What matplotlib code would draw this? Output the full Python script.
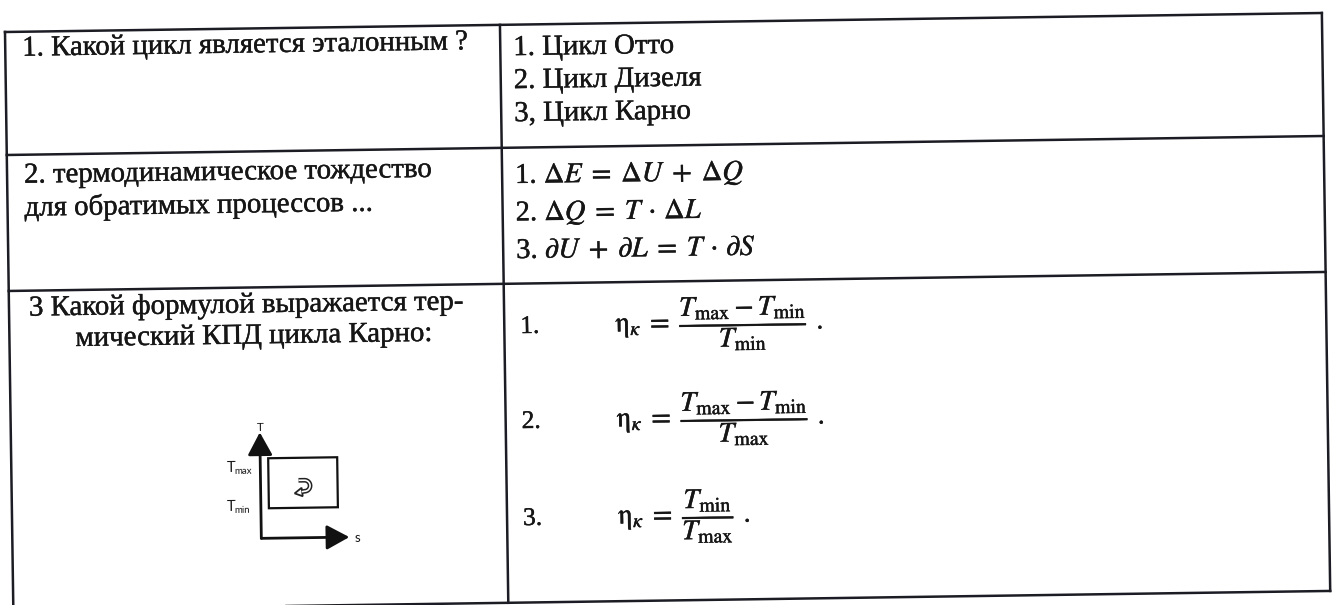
import numpy as np
import matplotlib
matplotlib.use("Agg")
import matplotlib.pyplot as plt
import matplotlib.patheffects as pe
from matplotlib.patches import FancyArrowPatch, Polygon

plt.rcParams["font.family"] = ["Liberation Serif", "DejaVu Serif"]
plt.rcParams["mathtext.fontset"] = "stix"

# ---------------- content ----------------
q1_lines = ["1. Какой цикл является эталонным ?"]
q2_lines = ["2. термодинамическое тождество", "для обратимых процессов ..."]
q3_lines = ["3 Какой формулой выражается тер-", "мический КПД цикла Карно:"]
a1_lines = ["1. Цикл Отто", "2. Цикл Дизеля", "3, Цикл Карно"]
a2_lines = [r"1. $\Delta E\;=\;\Delta U\;+\;\Delta Q$",
            r"2. $\Delta Q\;=\;T\,\cdot\,\Delta L$",
            r"3. $\partial U\;+\;\partial L\;=\;T\,\cdot\,\partial S$"]
a3_nums = ["1.", "2.", "3."]
a3_formulas = [
    r"$\mathrm{\eta}_{\kappa}\;=\;\dfrac{T_{\mathrm{max}} - T_{\mathrm{min}}}{T_{\mathrm{min}}}\ .$",
    r"$\mathrm{\eta}_{\kappa}\;=\;\dfrac{T_{\mathrm{max}} - T_{\mathrm{min}}}{T_{\mathrm{max}}}\ .$",
    r"$\mathrm{\eta}_{\kappa}\;=\;\dfrac{T_{\mathrm{min}}}{T_{\mathrm{max}}}\ .$",
]
diag_axis_labels = ["T", "s"]
diag_levels = [("T", "max"), ("T", "min")]

# ---------------- layout ----------------
W, H = 1333, 605
fig = plt.figure(figsize=(W / 100, H / 100), dpi=100)
ax = fig.add_axes([0, 0, 1, 1])
ax.set_xlim(0, W)
ax.set_ylim(H, 0)
ax.axis("off")

tilt = np.arctan2(19, 1317)          # the scanned page is slightly rotated
ct, st = np.cos(tilt), np.sin(tilt)
ORIGIN = (5.0, 32.0)
ANG = np.degrees(tilt)


def P(u, v):
    return ORIGIN[0] + u * ct + v * st, ORIGIN[1] - u * st + v * ct


TABLE_W = 1317
COL_SPLIT = 495
ROW_EDGES = [0, 123, 259, 578]
INK = "#161616"
LINE = "#1c1c24"
LW = 1.8
THICK = [pe.withStroke(linewidth=0.3, foreground=INK)]


def seg(u0, v0, u1, v1, lw=LW, color=LINE):
    (x0, y0), (x1, y1) = P(u0, v0), P(u1, v1)
    ax.plot([x0, x1], [y0, y1], color=color, lw=lw, solid_capstyle="projecting")


for v in ROW_EDGES:
    seg(0, v, TABLE_W, v)
for u in [0, COL_SPLIT, TABLE_W]:
    seg(u, 0, u, ROW_EDGES[-1])

fig.canvas.draw()
R = fig.canvas.get_renderer()


def width_at(s, size, **kw):
    t = ax.text(0, 0, s, fontsize=size, **kw)
    w = t.get_window_extent(renderer=R).width
    t.remove()
    return w


BODY = 20 * np.mean([450 / width_at(q1_lines[0], 20),
                     157 / width_at(a1_lines[0], 20),
                     415 / width_at(q2_lines[0], 20)])
MATH2 = 20 * 229 / width_at(a2_lines[0], 20)
MATH3 = 20 * 208 / width_at(a3_formulas[0], 20)
NUM3 = BODY * 0.88


def txt(u, v, s, size, ha="left", va="baseline", color=INK, effects=THICK, **kw):
    x, y = P(u, v)
    ax.text(x, y, s, fontsize=size, ha=ha, va=va, rotation=ANG,
            rotation_mode="anchor", color=color, path_effects=effects, **kw)


# row 1
txt(17, 24, q1_lines[0], BODY)
for i, s in enumerate(a1_lines):
    txt(508, 30.5 + 33 * i, s, BODY)

# row 2
for i, s in enumerate(q2_lines):
    txt(17, 151 + 33 * i, s, BODY)
for i, s in enumerate(a2_lines):
    txt(508, 158.5 + 37.5 * i, s, MATH2)

# row 3
txt(20, 284, q3_lines[0], BODY)
txt(66, 315, q3_lines[1], BODY)
for i, (n, f) in enumerate(zip(a3_nums, a3_formulas)):
    vb = [308.5, 403.5, 500.5][i]
    txt(511, vb, n, NUM3)
    txt(606, vb, f, MATH3)

# ---------------- small T-s diagram ----------------
SANS = ["Lato", "DejaVu Sans"]
corner = (249, 510)


def arrow(p0, p1):
    a = FancyArrowPatch(P(*p0), P(*p1), arrowstyle="-|>,head_length=0.7,head_width=0.38",
                        mutation_scale=20, lw=2.0, color="#111111",
                        shrinkA=0, shrinkB=0)
    ax.add_patch(a)


arrow(corner, (249, 404))
arrow(corner, (337, 510))

rect_u, rect_v = (257, 326), (430, 480)
pts = [P(rect_u[0], rect_v[0]), P(rect_u[1], rect_v[0]),
       P(rect_u[1], rect_v[1]), P(rect_u[0], rect_v[1])]
ax.add_patch(Polygon(pts, closed=True, fill=False, lw=1.6, edgecolor="#111111"))

# hollow curled arrow inside the rectangle
cu, cv, rr = 293, 458, 5.5
phi = np.linspace(-np.pi / 2, np.pi / 2, 40)
cur = [(cu - 6, cv - rr)] + [(cu + rr * np.cos(p), cv + rr * np.sin(p)) for p in phi] + [(cu - 3, cv + rr + 0.5)]
xy = np.array([P(a, b) for a, b in cur])
ax.plot(xy[:, 0], xy[:, 1], color="#222222", lw=3.4, solid_capstyle="butt")
ax.plot(xy[:, 0], xy[:, 1], color="white", lw=1.2, solid_capstyle="butt")
head = [P(cu - 10, cv + rr + 2), P(cu - 3, cv + rr - 3.5), P(cu - 2, cv + rr + 5)]
ax.add_patch(Polygon(head, closed=True, facecolor="white", edgecolor="#222222", lw=1.3))

txt(250, 399, diag_axis_labels[0], 8.5, ha="center", va="center", family=SANS, effects=None)
txt(342, 511, diag_axis_labels[1], 9.5, ha="left", va="center", family=SANS, effects=None)
for (base, sub), v in zip(diag_levels, [443, 482]):
    txt(215, v, base, 10.5, family=SANS, effects=None)
    txt(222.5, v + 2.5, sub, 7, family=SANS, effects=None)

fig.savefig("out.png", dpi=100, facecolor="white")
